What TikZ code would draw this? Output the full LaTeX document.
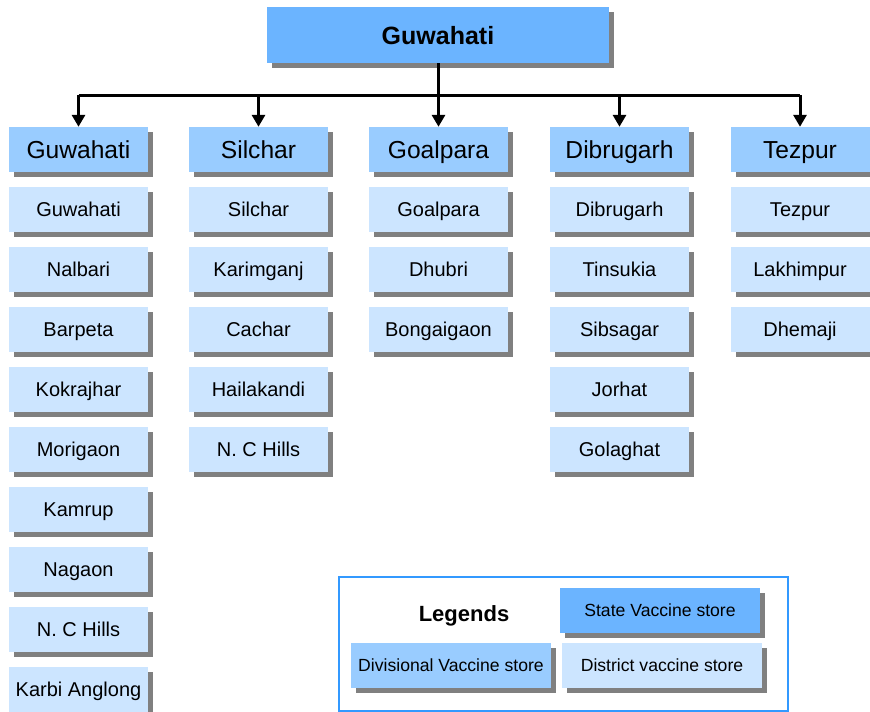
\documentclass[tikz,border=0pt]{standalone}
\usepackage{fontspec}
\setmainfont{Liberation Sans}
\usetikzlibrary{shadows,arrows.meta}
\definecolor{statecol}{RGB}{107,180,255}
\definecolor{divcol}{RGB}{153,204,255}
\definecolor{distcol}{RGB}{204,229,255}
\definecolor{shadowcol}{RGB}{128,128,128}
\definecolor{legendframe}{RGB}{51,153,255}
\begin{document}
\begin{tikzpicture}[x=1pt,y=-1pt,
  boxbase/.style={rectangle, inner sep=0pt, text=black, text depth=0pt,
    general shadow={fill=shadowcol, shadow xshift=5pt, shadow yshift=-5pt}},
  statebox/.style={boxbase, fill=statecol, minimum width=342pt, minimum height=56pt,
    text height=18pt, font=\fontsize{25}{28}\selectfont\bfseries},
  divbox/.style={boxbase, fill=divcol, minimum width=139pt, minimum height=45pt,
    text height=17.6pt, font=\fontsize{24.6}{28}\selectfont},
  distbox/.style={boxbase, fill=distcol, minimum width=139pt, minimum height=45pt,
    text height=14.3pt, font=\fontsize{20}{23}\selectfont},
  legbox/.style={boxbase, minimum width=200pt, minimum height=45pt,
    text height=12.6pt, font=\fontsize{17.6}{20}\selectfont},
  link/.style={line width=3pt, -{Triangle[length=12pt,width=13pt]}},
  trunk/.style={line width=3pt}]
\useasboundingbox (0,0) rectangle (870,712);

% state store
\node[statebox] (top) at (438,35) {Guwahati};

% divisional stores
\node[divbox] (d1) at (78.5,149.5) {Guwahati};
\node[divbox] (d2) at (258.5,149.5) {Silchar};
\node[divbox] (d3) at (438.5,149.5) {Goalpara};
\node[divbox] (d4) at (619.5,149.5) {Dibrugarh};
\node[divbox] (d5) at (800,149.5) {Tezpur};

% connectors
\coordinate (hub) at (438,95);
\draw[trunk] (top.south) -- (hub);
\draw[trunk] (d1.north |- hub) -- (d5.north |- hub);
\foreach \d in {d1,d2,d3,d4,d5}
  \draw[link] (\d.north |- hub) -- (\d.north);

% district stores
\foreach [count=\i] \name in {Guwahati,Nalbari,Barpeta,Kokrajhar,Morigaon,Kamrup,Nagaon,N. C Hills,Karbi Anglong}
  \node[distbox] (g\i) at (78.5,{149.5+60*\i}) {\name};
\foreach [count=\i] \name in {Silchar,Karimganj,Cachar,Hailakandi,N. C Hills}
  \node[distbox] (s\i) at (258.5,{149.5+60*\i}) {\name};
\foreach [count=\i] \name in {Goalpara,Dhubri,Bongaigaon}
  \node[distbox] (p\i) at (438.5,{149.5+60*\i}) {\name};
\foreach [count=\i] \name in {Dibrugarh,Tinsukia,Sibsagar,Jorhat,Golaghat}
  \node[distbox] (b\i) at (619.5,{149.5+60*\i}) {\name};
\foreach [count=\i] \name in {Tezpur,Lakhimpur,Dhemaji}
  \node[distbox] (t\i) at (800,{149.5+60*\i}) {\name};

% legend
\node[draw=legendframe, line width=2.5pt, minimum width=449pt, minimum height=134pt,
  inner sep=0pt] (legend) at (563.5,644) {};
\node[font=\fontsize{22}{26}\selectfont\bfseries, text height=15.8pt, text depth=0pt,
  inner sep=0pt] (legtitle) at (464,614) {Legends};
\node[legbox, fill=statecol] (lstate) at (660,610.5) {State Vaccine store};
\node[legbox, fill=divcol] (ldiv) at (451,665.5) {Divisional Vaccine store};
\node[legbox, fill=distcol] (ldist) at (662,665.5) {District vaccine store};
\end{tikzpicture}
\end{document}
